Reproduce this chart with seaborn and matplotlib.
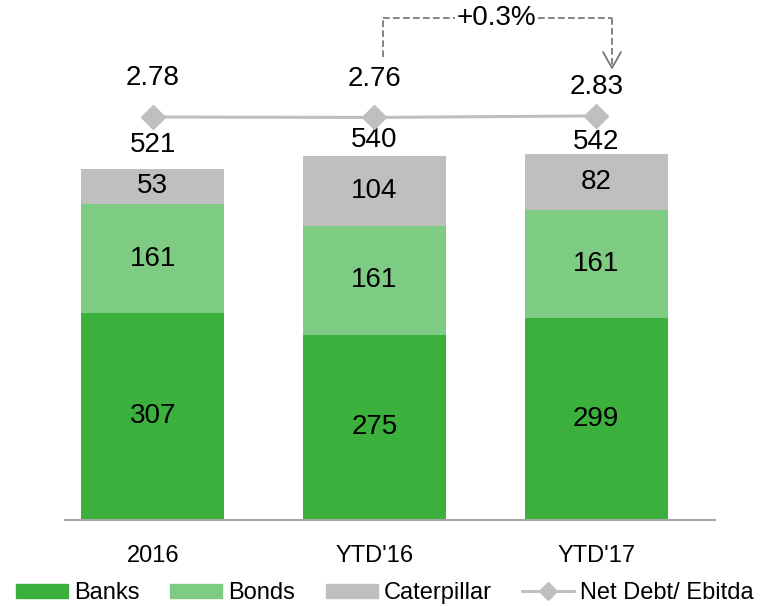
import matplotlib
matplotlib.use("Agg")
import matplotlib.pyplot as plt
import seaborn as sns
import numpy as np
from matplotlib.patches import Patch
from matplotlib.lines import Line2D

categories = ["2016", "YTD'16", "YTD'17"]
banks = [307, 275, 299]
bonds = [161, 161, 161]
caterpillar = [53, 104, 82]
totals = [521, 540, 542]
net_debt_ebitda = [2.78, 2.76, 2.83]
change_label = "+0.3%"

sns.set_theme(style="white")
plt.rcParams['font.family'] = ['Liberation Sans', 'DejaVu Sans']
plt.rcParams['text.color'] = 'black'
plt.rcParams['xtick.color'] = 'black'

c_banks = "#3CB03C"
c_bonds = "#7ECB84"
c_cat = "#BFBFBF"
c_line = "#BFBFBF"

fig = plt.figure(figsize=(7.7, 6.06), dpi=100)
ax = fig.add_axes([65/770, 86/606, 650/770, 520/606])

bw = 0.645
b1 = np.array(banks)
b2 = b1 + np.array(bonds)
sns.barplot(x=categories, y=banks, color=c_banks, width=bw, ax=ax, saturation=1, linewidth=0)
sns.barplot(x=categories, y=bonds, bottom=b1, color=c_bonds, width=bw, ax=ax, saturation=1, linewidth=0)
sns.barplot(x=categories, y=caterpillar, bottom=b2, color=c_cat, width=bw, ax=ax, saturation=1, linewidth=0)

fs = 20
total_offsets = [17, 11.5, 9]
for i in range(3):
    ax.text(i, banks[i] / 2, str(banks[i]), ha="center", va="center", fontsize=fs, color="black")
    ax.text(i, b1[i] + bonds[i] / 2, str(bonds[i]), ha="center", va="center", fontsize=fs, color="black")
    ax.text(i, b2[i] + caterpillar[i] / 2, str(caterpillar[i]), ha="center", va="center", fontsize=fs, color="black")
    ax.annotate(str(totals[i]), (i, totals[i]), xytext=(0, total_offsets[i]), textcoords="offset points",
                ha="center", va="center", fontsize=fs, color="black")

ax.set_xlim(-0.396, 2.536)
ax.set_ylim(0, 771)
ax.set_yticks([])
for s in ["left", "right", "top"]:
    ax.spines[s].set_visible(False)
ax.spines["bottom"].set_color("#A6A6A6")
ax.spines["bottom"].set_linewidth(1.5)
ax.tick_params(axis="x", length=0, labelsize=17, pad=18, labelcolor="black")

ax2 = ax.twinx()
scale = 22.0
lo = 2.78 - 403 / scale
ax2.set_ylim(lo, lo + 520 / scale)
ax2.plot(range(3), net_debt_ebitda, color=c_line, lw=2.2, marker="D", markersize=12,
         markerfacecolor=c_line, markeredgecolor=c_line)
label_offsets = [28, 28, 21]
for i, v in enumerate(net_debt_ebitda):
    ax2.annotate(f"{v:.2f}", (i, v), xytext=(0, label_offsets[i]), textcoords="offset points",
                 ha="center", va="center", fontsize=fs, color="black")
ax2.set_yticks([])
for s in ax2.spines.values():
    s.set_visible(False)

# bracket annotation
fx = lambda px: px / 770
fy = lambda py: 1 - py / 606
dash = dict(color="#707070", lw=1.2, ls=(0, (4, 2)))
fig.add_artist(Line2D([fx(383), fx(383)], [fy(57), fy(18)], **dash))
fig.add_artist(Line2D([fx(383), fx(455)], [fy(18), fy(18)], **dash))
fig.add_artist(Line2D([fx(538), fx(612)], [fy(18), fy(18)], **dash))
fig.add_artist(Line2D([fx(612), fx(612)], [fy(18), fy(68)], **dash))
fig.add_artist(Line2D([fx(603), fx(612), fx(621)], [fy(52), fy(68), fy(52)], color="#707070", lw=1.2))
fig.text(fx(496), fy(18), change_label, ha="center", va="center", fontsize=fs, color="black")

handles = [Patch(color=c_banks), Patch(color=c_bonds), Patch(color=c_cat),
           Line2D([], [], color=c_line, lw=2.2, marker="D", markersize=9,
                  markerfacecolor=c_line, markeredgecolor=c_line)]
labels = ["Banks", "Bonds", "Caterpillar", "Net Debt/ Ebitda"]
fig.legend(handles, labels, loc="lower center", bbox_to_anchor=(0.5, -0.024), ncol=4,
           frameon=False, fontsize=17, handlelength=2.2, handleheight=0.55,
           columnspacing=1.3, handletextpad=0.25, borderpad=0.2)

fig.savefig("out.png", dpi=100)
